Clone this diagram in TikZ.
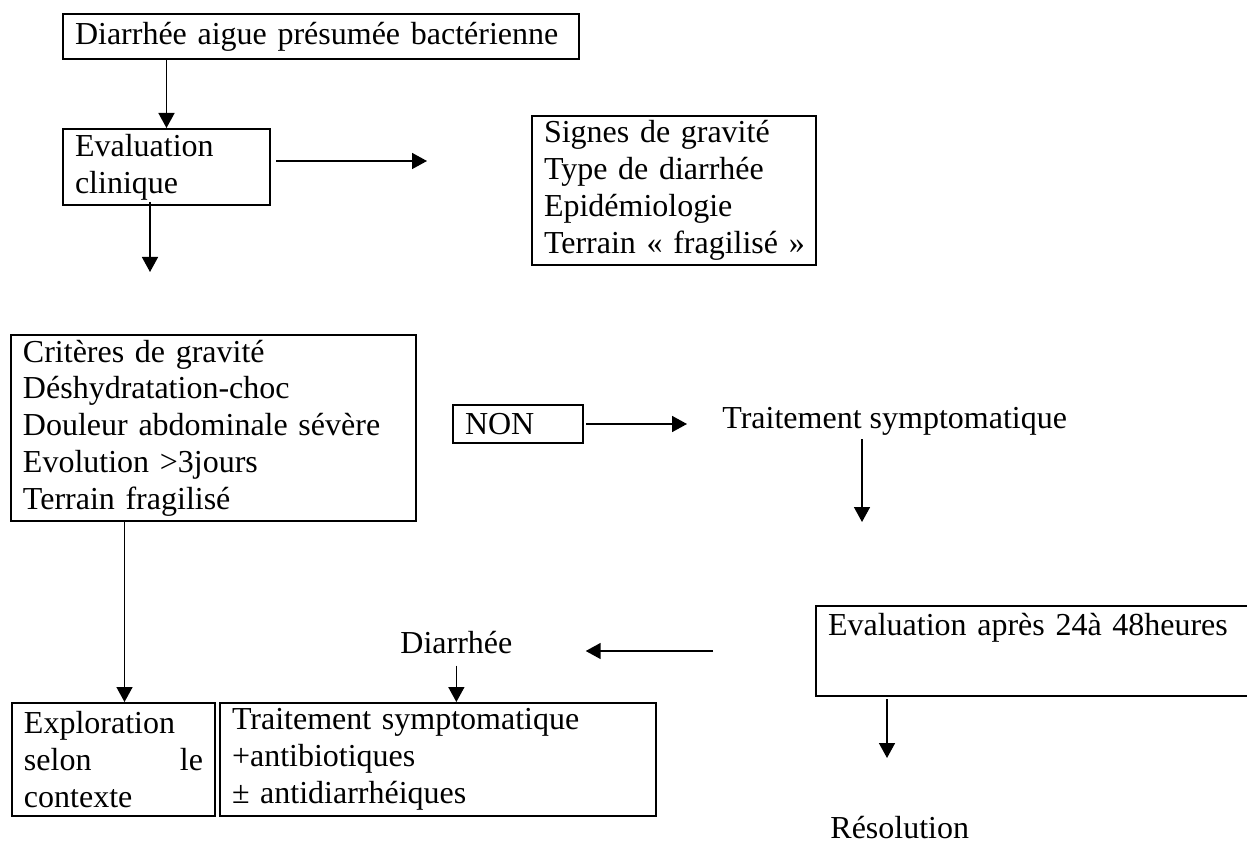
\documentclass[tikz,border=0pt]{standalone}
\usepackage{fontspec}
\setmainfont{Liberation Serif}
\usetikzlibrary{arrows.meta}
\tikzset{
	boite/.style={draw, line width=1pt, anchor=north west, align=left, inner xsep=6pt, inner ysep=1pt},
	texte/.style={anchor=base west, inner sep=0pt},
	fleche/.style={line width=0.8pt, -{Triangle[length=7.5pt,width=8pt]}}
}
\begin{document}
\begin{tikzpicture}[x=0.5pt,y=-0.5pt,font=\fontsize{16}{18.4}\selectfont]
	\useasboundingbox (0,0) rectangle (1247,845);
	\node[boite, text width=246pt, minimum height=22.5pt] (diarrheeaigue) at (62,13) {Diarrhée aigue présumée bactérienne};
	\node[boite, text width=91.5pt, minimum height=38pt] (evalclin) at (62,128) {Evaluation\\clinique};
	\node[boite, text width=130pt, minimum height=74.5pt] (signes) at (531,115) {Signes de gravité\\Type de diarrhée\\Epidémiologie\\\mbox{Terrain « fragilisé »}};
	\node[boite, text width=190.5pt, minimum height=93pt] (criteres) at (10,334) {Critères de gravité\\Déshydratation-choc\\Douleur abdominale sévère\\Evolution >3jours\\Terrain fragilisé};
	\node[boite, text width=53pt, minimum height=19pt] (non) at (452,404) {NON};
	\node[texte] (traitsympt) at (722,428) {Traitement symptomatique};
	\node[boite, text width=225.5pt, minimum height=45pt] (evalapres) at (815,605) {Evaluation après 24à 48heures\\[3pt]\strut};
	\node[texte] (diarrhee) at (400,653) {Diarrhée};
	\node[boite, text width=89.5pt, minimum height=56.5pt] (exploration) at (11,702) {Exploration\\selon\hfill le\\contexte};
	\node[boite, text width=206pt, minimum height=56.5pt] (traitatb) at (219,702) {Traitement symptomatique\\+antibiotiques\\± antidiarrhéiques};
	\node[texte] (resolution) at (830,838) {Résolution};
	\coordinate (finsignes) at (427,161);
	\coordinate (fineval) at (150,272);
	\coordinate (finsympt) at (862,522);
	\coordinate (finresol) at (887,758);
	\draw[fleche] (diarrheeaigue.south -| evalclin.north) -- (evalclin.north);
	\draw[fleche] ([xshift=2.5pt]evalclin.east |- finsignes) -- (finsignes);
	\draw[fleche] ([yshift=2pt]evalclin.south -| fineval) -- (fineval);
	\draw[fleche] ([xshift=5.5pt]exploration.north |- criteres.south) -- ([xshift=5.5pt]exploration.north);
	\draw[fleche] ([xshift=1pt]non.east) -- ([xshift=-17.5pt]traitsympt.west |- non.east);
	\draw[fleche] ([yshift=-2pt]traitsympt.south -| finsympt) -- (finsympt);
	\draw[fleche] ([xshift=-51pt]evalapres.west) -- ([xshift=36.5pt]diarrhee.east |- evalapres.west);
	\draw[fleche] ([yshift=-6pt]diarrhee.south) -- (diarrhee.south |- traitatb.north);
	\draw[fleche] ([yshift=-1pt]evalapres.south -| finresol) -- (finresol);
\end{tikzpicture}
\end{document}
